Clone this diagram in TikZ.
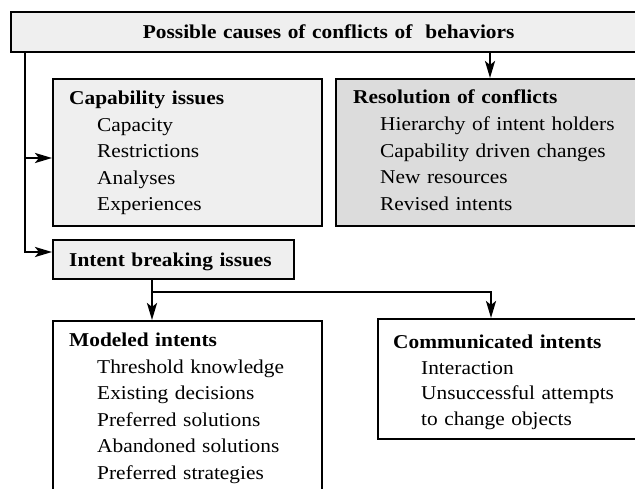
\documentclass[tikz,border=0pt]{standalone}
\usepackage{fontspec}
\setmainfont{Liberation Serif}[FakeStretch=1.09]
\usetikzlibrary{arrows.meta}
\newcommand\bodyfs{\fontsize{19.6}{26.5}\selectfont}
\newcommand\itm{\hspace*{28pt}}
\definecolor{lightbox}{HTML}{EFEFEF}
\definecolor{darkbox}{HTML}{DCDCDC}
\tikzset{
  box/.style={draw, line width=2.4pt, anchor=north west, inner xsep=16pt, inner ysep=0pt,
    align=left, font=\bodyfs},
  conn/.style={line width=2.4pt, -{Stealth[length=17pt,width=10pt,inset=4pt]}},
}
\begin{document}
\begin{tikzpicture}[x=1pt,y=-1pt]
\useasboundingbox (0,0) rectangle (635,489);
\clip (0,0) rectangle (635,489);

% top box
\node[box, fill=lightbox, align=center, text width=603pt, text height=26pt, text depth=14pt]
  (top) at (10,11) {\textbf{Possible causes of conflicts of \ behaviors}};

% capability issues
\node[box, fill=lightbox, text width=237pt, text height=25pt, text depth=122pt]
  (cap) at (52,78) {\textbf{Capability issues}\\[0.7pt]
  \itm Capacity\\ \itm Restrictions\\ \itm Analyses\\ \itm Experiences};

% resolution of conflicts
\node[box, fill=darkbox, inner xsep=17pt, text width=276pt, text height=24.5pt, text depth=122.5pt]
  (res) at (335,78) {\textbf{Resolution of conflicts}\\[0.7pt]
  \hspace*{27pt}Hierarchy of intent holders\\ \hspace*{27pt}Capability driven changes\\
  \hspace*{27pt}New resources\\ \hspace*{27pt}Revised intents};

% intent breaking issues
\node[box, fill=lightbox, text width=209pt, text height=26pt, text depth=13pt]
  (intent) at (52,239) {\textbf{Intent breaking issues}};

% modeled intents
\node[box, fill=white, text width=237pt, text height=25pt, text depth=150pt]
  (mod) at (52,320) {\textbf{Modeled intents}\\[0.5pt]
  \itm Threshold knowledge\\ \itm Existing decisions\\ \itm Preferred solutions\\
  \itm Abandoned solutions\\ \itm Preferred strategies};

% communicated intents
\node[box, fill=white, inner xsep=15pt, font=\fontsize{19.6}{25.9}\selectfont,
  text width=238pt, text height=29pt, text depth=91pt]
  (comm) at (377,318) {\textbf{Communicated intents}\\[0pt]
  \itm Interaction\\ \itm Unsuccessful attempts\\ \itm to change objects};

% connectors
\coordinate (trunk) at (25,252);
\coordinate (capin) at (25,158);
\coordinate (resx) at (490,65);
\coordinate (split) at (152,292);
\coordinate (commx) at (491,300);

\draw[conn] (top.south -| trunk) -- (trunk) -- (intent.west |- trunk);
\draw[conn] (capin) -- (cap.west |- capin);
\draw[conn] (top.south -| resx) -- (res.north -| resx);
\draw[conn] (intent.south -| split) -- (mod.north -| split);
\draw[conn] (split) -| (comm.north -| commx);
\end{tikzpicture}
\end{document}
